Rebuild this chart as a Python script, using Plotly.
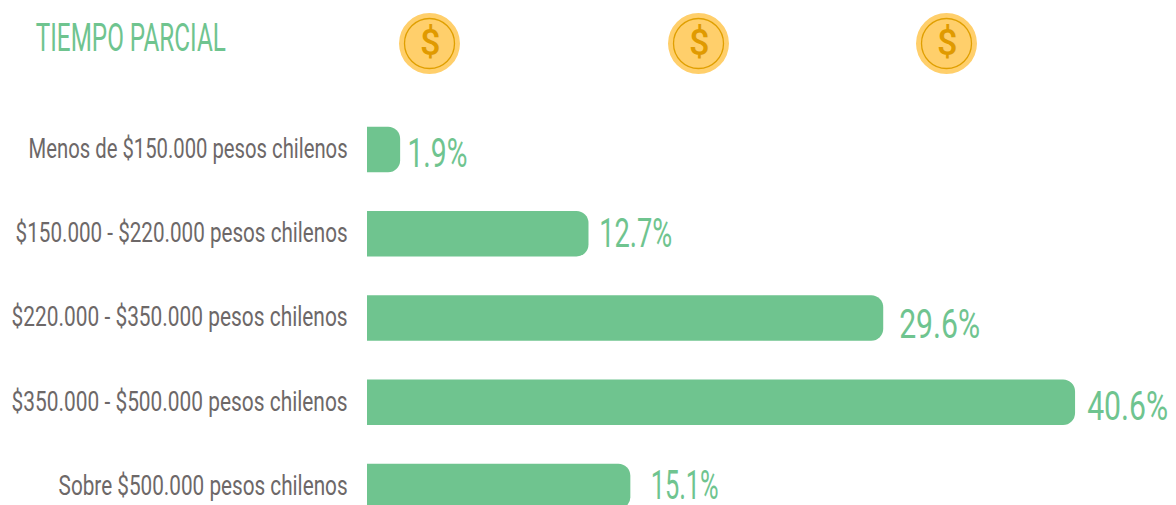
import plotly.graph_objects as go

categories = ["Menos de $150.000 pesos chilenos", "$150.000 - $220.000 pesos chilenos",
              "$220.000 - $350.000 pesos chilenos", "$350.000 - $500.000 pesos chilenos",
              "Sobre $500.000 pesos chilenos"]
values = [1.9, 12.7, 29.6, 40.6, 15.1]
value_labels = ["1.9%", "12.7%", "29.6%", "40.6%", "15.1%"]
label_xshifts = [37, 47, 56, 52.5, 54]   # px from bar end to label centre
label_yshifts = [-4, 0, -7, -4, 1]
label_widths = [60, 73, 81, 81, 68]
tick_widths = [319, 332, 336, 336, 289]
coin_centers = [429.5, 698.5, 946.5]

W, H = 1176, 505
GREEN = "#6FC48F"
FONT = "Roboto, sans-serif"

fig = go.Figure(go.Bar(x=values, y=categories, orientation="h", marker=dict(color=GREEN, line=dict(width=0)),
                       hoverinfo="skip"))

shapes = []
for cx in coin_centers:
    shapes.append(dict(type="circle", xref="paper", yref="paper", x0=(cx-30.5)/W, x1=(cx+30.5)/W,
                       y0=1-(43.5+30.5)/H, y1=1-(43.5-30.5)/H, fillcolor="#FFCF6B", line=dict(width=0), layer="above"))
    shapes.append(dict(type="circle", xref="paper", yref="paper", x0=(cx-25)/W, x1=(cx+25)/W,
                       y0=1-(43.5+25)/H, y1=1-(43.5-25)/H, fillcolor="rgba(0,0,0,0)", line=dict(width=1.3, color="#E09F00"), layer="above"))

ann = [dict(xref="paper", yref="paper", x=131/W, y=1-38/H, xanchor="center", yanchor="middle", text="TIEMPO PARCIAL",
            showarrow=False, font=dict(family=FONT, size=38, color=GREEN, weight=400))]
for cx in coin_centers:
    ann.append(dict(xref="paper", yref="paper", x=cx/W, y=1-43/H, xanchor="center", yanchor="middle", text="$",
                    showarrow=False, font=dict(family=FONT, size=36, color="#E09A00", weight=500)))
for c, v, t, sx, sy in zip(categories, values, value_labels, label_xshifts, label_yshifts):
    ann.append(dict(x=v, y=c, xref="x", yref="y", xanchor="center", yanchor="middle", xshift=sx, yshift=sy, text=t,
                    showarrow=False, font=dict(family=FONT, size=40, color=GREEN, weight=400)))

fig.update_layout(
    width=W, height=H, margin=dict(l=0, r=0, t=0, b=0), autosize=False,
    paper_bgcolor="white", plot_bgcolor="white", showlegend=False,
    bargap=0.46, barcornerradius=12, shapes=shapes, annotations=ann,
    xaxis=dict(domain=[367/W, 1], range=[0, 809/17.44], visible=False, automargin=False),
    yaxis=dict(type="category", categoryorder="array", categoryarray=categories, range=[4.22, -1.774],
               automargin=False, showgrid=False, zeroline=False, showline=False, ticks="outside", ticklen=13,
               ticklabelshift=1, tickcolor="rgba(0,0,0,0)", tickfont=dict(family=FONT, size=27, color="#6D6868")),
)

post = """
document.body.style.margin = '0';
var widths = %s, labels = %s, tickWidths = %s, cats = %s;
function squeeze(t, w) {
  t.setAttribute('lengthAdjust', 'spacingAndGlyphs');
  t.setAttribute('textLength', w);
}
document.querySelectorAll('.ytick text').forEach(function (t) {
  var i = cats.indexOf(t.textContent);
  if (i >= 0) squeeze(t, tickWidths[i]);
});
document.querySelectorAll('.annotation-text').forEach(function (t) {
  var s = t.textContent;
  if (s === 'TIEMPO PARCIAL') { squeeze(t, 190); return; }
  var i = labels.indexOf(s);
  if (i >= 0) squeeze(t, widths[i]);
});
""" % (label_widths, value_labels, tick_widths, categories)
fig.write_html("out.html", config=dict(displayModeBar=False), post_script=post)
